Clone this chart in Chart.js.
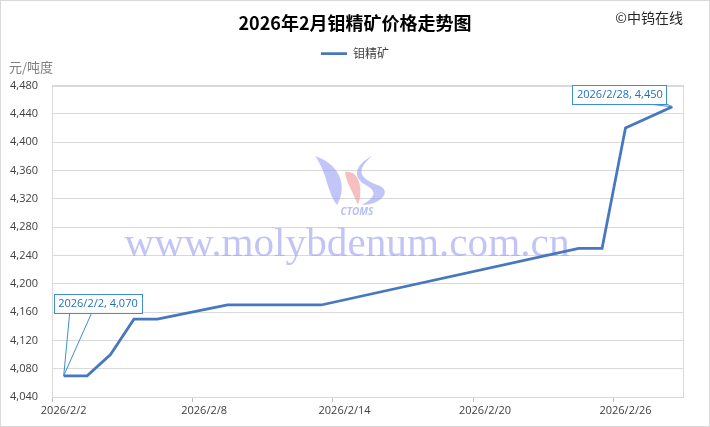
<!DOCTYPE html>
<html>
<head>
<meta charset="utf-8">
<script src="https://cdn.jsdelivr.net/npm/chart.js@4"></script>
<style>
  html, body { margin: 0; padding: 0; background: #fff; }
  #wrap { width: 710px; height: 427px; }
</style>
</head>
<body>
<div id="wrap"><canvas id="myLine"></canvas></div>
<script>
// chart data
var days = ['2026/2/2', '2026/2/3', '2026/2/4', '2026/2/5', '2026/2/6', '2026/2/7', '2026/2/8',
            '2026/2/9', '2026/2/10', '2026/2/11', '2026/2/12', '2026/2/13', '2026/2/14', '2026/2/15',
            '2026/2/16', '2026/2/17', '2026/2/18', '2026/2/19', '2026/2/20', '2026/2/21', '2026/2/22',
            '2026/2/23', '2026/2/24', '2026/2/25', '2026/2/26', '2026/2/27', '2026/2/28'];
// null = no quote that day (weekend / Spring Festival)
var prices = [4070, 4070, 4100, 4150, 4150, null, null,
              4170, 4170, 4170, 4170, 4170, null, null,
              null, null, null, null, null, null, null,
              null, 4250, 4250, 4420, null, 4450];
var yTicks = [4040, 4080, 4120, 4160, 4200, 4240, 4280, 4320, 4360, 4400, 4440, 4480];
var seriesName = '钼精矿';
var chartTitle = '2026年2月钼精矿价格走势图';
var unitText = '元/吨度';
var copyText = '©中钨在线';
var siteText = 'www.molybdenum.com.cn';

var CJK = '"Noto Sans CJK SC", "Noto Sans", sans-serif';
var LAT = '"Open Sans", "Noto Sans", sans-serif';
var lineBlue = '#4677BF';

function fmt(v) { return Number(v).toLocaleString('en-US'); }

// spacer boxes: one under the legend (room for the unit text), one on the right
function spacer(pos, size) {
    var horiz = pos === 'top' || pos === 'bottom';
    return {
        position: pos,
        weight: 500,
        fullSize: horiz,
        options: { display: true },
        width: 0,
        height: 0,
        isHorizontal: function () { return horiz; },
        update: function (maxWidth, maxHeight) {
            this.width = horiz ? maxWidth : size;
            this.height = horiz ? size : maxHeight;
        },
        draw: function () {}
    };
}

// background, outer frame, plot frame, unit + copyright text, watermark
var decor = {
    id: 'decor',
    afterInit: function (chart) {
        Chart.layouts.addBox(chart, spacer('top', 16));
        Chart.layouts.addBox(chart, spacer('right', 26));
    },
    beforeDraw: function (chart) {
        var c = chart.ctx;
        c.save();
        c.fillStyle = '#fff';
        c.fillRect(0, 0, chart.width, chart.height);
        c.strokeStyle = '#d9d9d9';
        c.lineWidth = 1;
        c.strokeRect(0.5, 0.5, chart.width - 1, chart.height - 1);
        c.font = '13px ' + CJK;
        c.fillStyle = '#7f7f7f';
        c.textBaseline = 'middle';
        c.fillText(unitText, 9, 67);
        c.font = '14px ' + CJK;
        c.fillStyle = '#262626';
        c.textAlign = 'right';
        c.fillText(copyText, 683, 18);
        c.restore();
    },
    beforeDatasetsDraw: function (chart) {
        var c = chart.ctx, a = chart.chartArea;
        c.save();
        c.strokeStyle = '#d9d9d9';
        c.lineWidth = 1;
        c.strokeRect(Math.round(a.left) + 0.5, Math.round(a.top) + 0.5,
                     Math.round(a.right - a.left) - 1, Math.round(a.bottom - a.top));
        // watermark logo
        var cx = 350, cy = 180;
        c.globalAlpha = 0.55;
        c.fillStyle = '#8f95f0';
        c.beginPath();
        c.moveTo(cx - 35, cy - 24);
        c.bezierCurveTo(cx - 6, cy - 14, cx - 4, cy + 10, cx - 13, cy + 25);
        c.bezierCurveTo(cx - 24, cy + 10, cx - 22, cy - 6, cx - 35, cy - 24);
        c.fill();
        c.beginPath();
        c.moveTo(cx + 22, cy - 24);
        c.bezierCurveTo(cx + 6, cy - 10, cx + 8, cy - 2, cx + 30, cy + 6);
        c.bezierCurveTo(cx + 42, cy + 12, cx + 30, cy + 25, cx + 12, cy + 25);
        c.bezierCurveTo(cx + 28, cy + 16, cx + 26, cy + 10, cx + 14, cy + 4);
        c.bezierCurveTo(cx + 2, cy - 4, cx + 6, cy - 16, cx + 22, cy - 24);
        c.fill();
        c.fillStyle = '#f08a8a';
        c.beginPath();
        c.moveTo(cx - 5, cy - 8);
        c.bezierCurveTo(cx + 11, cy - 10, cx + 13, cy + 12, cx + 8, cy + 25);
        c.bezierCurveTo(cx + 2, cy + 10, cx - 4, cy + 2, cx - 5, cy - 8);
        c.fill();
        c.fillStyle = '#7b86ee';
        c.font = 'italic bold 10px ' + LAT;
        c.textAlign = 'center';
        c.textBaseline = 'middle';
        c.fillText('CTOMS', cx + 7, cy + 32);
        // watermark site text
        c.globalAlpha = 0.6;
        c.fillStyle = '#9a9cf0';
        c.font = '40px "Liberation Serif", "DejaVu Serif", serif';
        var w = c.measureText(siteText).width;
        c.translate(347, 245);
        c.scale(445 / w, 1);
        c.fillText(siteText, 0, 0);
        c.restore();
    }
};

// callout labels for first and last point
var callouts = {
    id: 'callouts',
    afterDatasetsDraw: function (chart) {
        var c = chart.ctx;
        var pts = chart.getDatasetMeta(0).data;
        var first = 0, last = prices.length - 1;
        c.save();
        c.font = '11px ' + LAT;
        c.textBaseline = 'middle';
        c.textAlign = 'center';
        [first, last].forEach(function (i) {
            var p = pts[i];
            var txt = days[i] + ', ' + fmt(prices[i]);
            var bw = c.measureText(txt).width + 8, bh = 19;
            var bx, by, l1, l2;
            if (i === first) {
                bx = p.x - 10; by = p.y - 82;
                l1 = p.x + 6; l2 = p.x + 28;
            } else {
                bx = p.x - 6 - bw; by = p.y - 22;
                l1 = p.x - 25; l2 = bx + bw;
            }
            c.strokeStyle = '#3d8fd1';
            c.lineWidth = 1;
            c.beginPath();
            c.moveTo(l1, by + bh);
            c.lineTo(p.x, p.y);
            c.lineTo(l2, by + bh);
            c.stroke();
            c.fillStyle = '#fff';
            c.fillRect(bx, by, bw, bh);
            c.strokeRect(Math.round(bx) + 0.5, Math.round(by) + 0.5, Math.round(bw), bh);
            c.fillStyle = '#1f6fbf';
            c.fillText(txt, bx + bw / 2 + 0.5, by + bh / 2 + 1);
        });
        c.restore();
    }
};

var ctxline = document.getElementById('myLine').getContext('2d');
var myLineChart = new Chart(ctxline, {
    type: 'line',
    data: {
        labels: days,
        datasets: [{
            label: seriesName,
            data: prices,
            borderColor: lineBlue,
            backgroundColor: lineBlue,
            borderWidth: 2.75,
            pointRadius: 0,
            tension: 0,
            spanGaps: true
        }]
    },
    options: {
        responsive: true,
        maintainAspectRatio: false,
        animation: false,
        events: [],
        layout: { padding: 0 },
        plugins: {
            title: {
                display: true,
                text: chartTitle,
                color: '#000',
                font: { family: CJK, size: 18, weight: 'bold' },
                padding: { top: 12, bottom: 4 }
            },
            legend: {
                display: true,
                labels: {
                    usePointStyle: true,
                    pointStyle: 'line',
                    pointStyleWidth: 26,
                    color: '#404040',
                    font: { family: CJK, size: 12 },
                    padding: 10
                }
            },
            tooltip: { enabled: false }
        },
        scales: {
            x: {
                type: 'category',
                offset: true,
                grid: {
                    offset: true,
                    drawOnChartArea: false,
                    tickLength: 5,
                    tickColor: function (ctx) { return ctx.index % 6 === 0 ? '#bfbfbf' : 'rgba(0,0,0,0)'; }
                },
                border: { display: false },
                ticks: {
                    autoSkip: false,
                    maxRotation: 0,
                    padding: 2,
                    color: '#404040',
                    font: { family: LAT, size: 11 },
                    callback: function (v, i) { return i % 6 === 0 ? days[i] : ''; }
                },
                afterFit: function (s) { s.height = 30; }
            },
            y: {
                min: 4040,
                max: 4480,
                afterBuildTicks: function (s) { s.ticks = yTicks.map(function (v) { return { value: v }; }); },
                grid: { color: '#d9d9d9', drawTicks: false },
                border: { display: false },
                ticks: {
                    padding: 14,
                    color: '#404040',
                    font: { family: LAT, size: 11 },
                    callback: function (v) { return fmt(v); }
                },
                afterFit: function (s) { s.width = 52; }
            }
        }
    },
    plugins: [decor, callouts]
});
</script>
</body>
</html>
